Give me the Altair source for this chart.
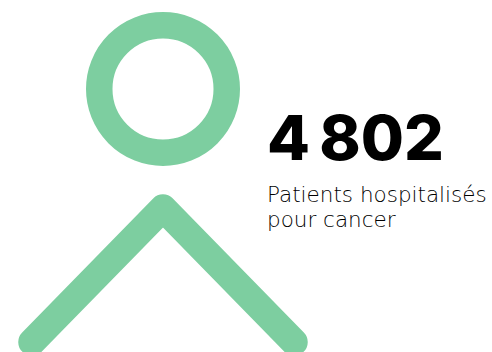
import altair as alt
import pandas as pd

GREEN = "#7dcea0"

# Head ring centre and roof-shaped body outline, on a pixel-like grid
head_x = [163]
head_y = [89]
body_x = [32, 163, 294]
body_y = [342, 208, 342]
stat_value = ["4\u2009802"]
caption = ["Patients hospitalisés", "pour cancer"]

x_scale = alt.Scale(domain=[0, 492], range=[0, 492], nice=False, zero=False)
y_scale = alt.Scale(domain=[0, 352], range=[0, 352], nice=False, zero=False)

head = alt.Chart(pd.DataFrame({"x": head_x, "y": head_y})).mark_point(
    filled=False, color=GREEN, strokeWidth=26.5, size=16256, opacity=1
).encode(
    x=alt.X("x:Q", scale=x_scale, axis=None),
    y=alt.Y("y:Q", scale=y_scale, axis=None),
)

body = alt.Chart(pd.DataFrame({"x": body_x, "y": body_y, "o": [0, 1, 2]})).mark_line(
    color=GREEN, strokeWidth=27.5, strokeCap="round", strokeJoin="round"
).encode(
    x=alt.X("x:Q", scale=x_scale, axis=None),
    y=alt.Y("y:Q", scale=y_scale, axis=None),
    order="o:Q",
)

value_text = alt.Chart(pd.DataFrame({"x": [267], "y": [160], "t": stat_value})).mark_text(
    align="left", baseline="alphabetic", font="Inter", fontWeight=800, fontSize=62.5, color="#000000"
).encode(
    x=alt.X("x:Q", scale=x_scale, axis=None),
    y=alt.Y("y:Q", scale=y_scale, axis=None),
    text="t:N",
)

caption_text = alt.Chart(pd.DataFrame({"x": [267, 267], "y": [202, 227], "t": caption})).mark_text(
    align="left", baseline="alphabetic", font="DejaVu Sans", fontWeight=200, fontSize=21.5, color="#000000"
).encode(
    x=alt.X("x:Q", scale=x_scale, axis=None),
    y=alt.Y("y:Q", scale=y_scale, axis=None),
    text="t:N",
)

chart = (head + body + value_text + caption_text).properties(
    width=492, height=352, padding=0, background="#ffffff",
    autosize=alt.AutoSizeParams(type="none"),
    view=alt.ViewConfig(stroke=None),
)

chart.save("out.html", embed_options={"renderer": "svg", "actions": False})
